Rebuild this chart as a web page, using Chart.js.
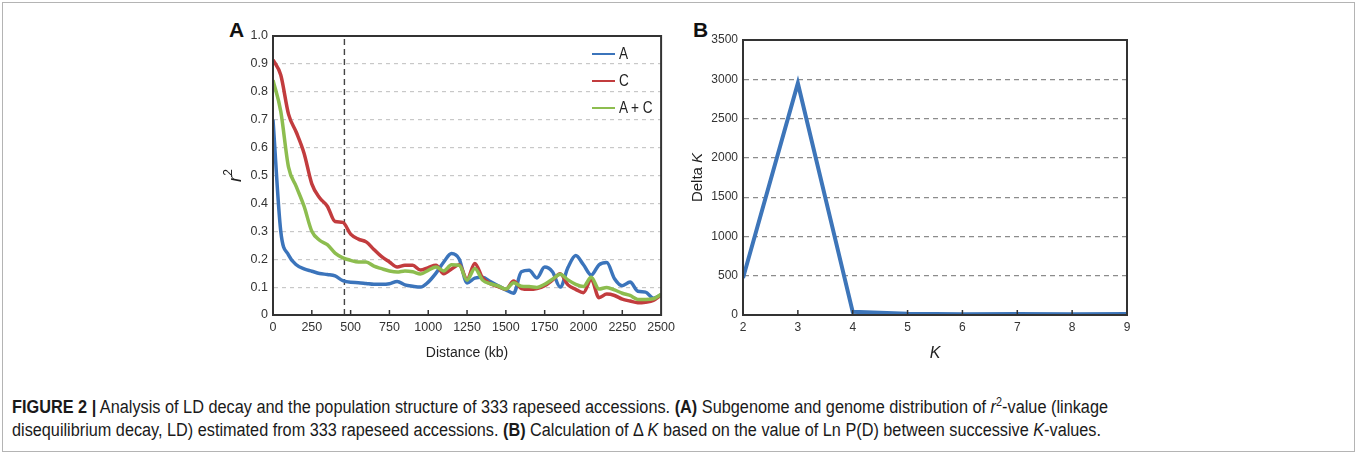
<!DOCTYPE html>
<html>
<head>
<meta charset="utf-8">
<script src="https://cdn.jsdelivr.net/npm/chart.js@4/dist/chart.umd.min.js"></script>
<style>
  body { margin: 0; background: #fff; width: 1359px; height: 455px; position: relative; overflow: hidden; font-family: "Liberation Sans", Arial, sans-serif; color: #222; }
  .frame { position: absolute; left: 2px; top: 2px; width: 1351px; height: 448px; border: 1px solid #b4b4b4; }
  .wrap { position: absolute; top: 0; }
  .panel { position: absolute; font-weight: bold; font-size: 21px; color: #111; }
  .legend { position: absolute; left: 592px; top: 40px; font-family: "Liberation Sans Narrow", "Liberation Sans", sans-serif; font-size: 16px; color: #222; }
  .legend div { height: 27px; display: flex; align-items: center; }
  .legend span.sw { display: inline-block; width: 23px; height: 2px; margin-right: 4px; }
  .legend span.tx { display: inline-block; transform: scaleX(0.85); transform-origin: 0 50%; }
  .caption { position: absolute; left: 12px; white-space: nowrap; font-family: "Liberation Sans Narrow", "Liberation Sans", sans-serif; font-size: 18px; color: #1a1a1a; transform-origin: 0 50%; }
  .caption sup { font-size: 12px; }
</style>
</head>
<body>
<div class="frame"></div>
<div class="panel" style="left:229px;top:18px;">A</div>
<div class="panel" style="left:693px;top:18px;">B</div>
<div class="wrap" style="left:200px;"><canvas id="ldChart" width="480" height="370"></canvas></div>
<div class="wrap" style="left:680px;"><canvas id="deltaChart" width="470" height="370"></canvas></div>
<div class="legend" id="ldLegend"></div>
<div class="caption" id="cap1" style="top:395px;"><b>FIGURE 2 |</b> Analysis of LD decay and the population structure of 333 rapeseed accessions. <b>(A)</b> Subgenome and genome distribution of <i>r</i><sup>2</sup>-value (linkage</div>
<div class="caption" id="cap2" style="top:420px;">disequilibrium decay, LD) estimated from 333 rapeseed accessions. <b>(B)</b> Calculation of Δ <i>K</i> based on the value of Ln P(D) between successive <i>K</i>-values.</div>
<script>
// panel A: LD decay, r^2 against distance (kb)
const distanceKb = [0, 50, 100, 150, 200, 250, 300, 350, 400, 450, 500, 550, 600, 650, 700, 750, 800, 850, 900, 950,
  1000, 1050, 1100, 1150, 1200, 1250, 1300, 1350, 1400, 1450, 1500, 1550, 1600, 1650, 1700, 1750, 1800, 1850, 1900, 1950,
  2000, 2050, 2100, 2150, 2200, 2250, 2300, 2350, 2400, 2450, 2500];

const r2A = [0.70, 0.30, 0.215, 0.18, 0.165, 0.157, 0.149, 0.145, 0.140, 0.123, 0.117, 0.116, 0.113, 0.110, 0.110, 0.112, 0.120, 0.108, 0.103, 0.100,
  0.118, 0.150, 0.190, 0.220, 0.200, 0.115, 0.132, 0.135, 0.120, 0.105, 0.090, 0.078, 0.155, 0.160, 0.133, 0.172, 0.155, 0.100, 0.170, 0.213,
  0.180, 0.143, 0.180, 0.188, 0.130, 0.105, 0.118, 0.085, 0.082, 0.060, 0.072];

const r2C = [0.915, 0.86, 0.72, 0.655, 0.58, 0.47, 0.42, 0.39, 0.335, 0.332, 0.29, 0.272, 0.262, 0.235, 0.209, 0.19, 0.172, 0.178, 0.178, 0.161,
  0.170, 0.178, 0.148, 0.165, 0.180, 0.128, 0.185, 0.133, 0.112, 0.102, 0.092, 0.122, 0.095, 0.092, 0.095, 0.105, 0.125, 0.148, 0.108, 0.092,
  0.080, 0.128, 0.062, 0.075, 0.070, 0.057, 0.050, 0.044, 0.046, 0.052, 0.072];

const r2AC = [0.842, 0.73, 0.53, 0.46, 0.39, 0.30, 0.268, 0.252, 0.222, 0.205, 0.196, 0.190, 0.190, 0.175, 0.166, 0.158, 0.154, 0.158, 0.155, 0.147,
  0.160, 0.172, 0.158, 0.180, 0.178, 0.125, 0.167, 0.125, 0.112, 0.104, 0.093, 0.116, 0.103, 0.102, 0.099, 0.110, 0.128, 0.146, 0.126, 0.110,
  0.102, 0.135, 0.093, 0.099, 0.090, 0.078, 0.070, 0.056, 0.056, 0.058, 0.074];

const seriesNames = ["A", "C", "A + C"];
const seriesColors = ["#3b74bb", "#c23c3e", "#8dbd4f"];
const ldCutoffKb = 460;

// panel B: delta K by K
const kValues = [2, 3, 4, 5, 6, 7, 8, 9];
const deltaK = [470, 2950, 40, 15, 10, 12, 8, 14];

const AXIS_FONT = "Liberation Sans";

function toPoints(xs, ys) {
  return xs.map((x, i) => ({ x: x, y: ys[i] }));
}

// frame round the plot area and small inward ticks on the x axis
const frameTicks = {
  id: "frameTicks",
  afterDraw(chart) {
    const { ctx, chartArea } = chart;
    const xs = chart.scales.x;
    ctx.save();
    ctx.strokeStyle = "#333";
    ctx.lineWidth = 1.5;
    xs.ticks.forEach((t) => {
      const px = xs.getPixelForValue(t.value);
      if (px <= chartArea.left + 1 || px >= chartArea.right - 1) return;
      ctx.beginPath();
      ctx.moveTo(px, chartArea.bottom);
      ctx.lineTo(px, chartArea.bottom - 5);
      ctx.stroke();
    });
    ctx.lineWidth = 2;
    ctx.strokeRect(chartArea.left, chartArea.top, chartArea.width, chartArea.height);
    ctx.restore();
  },
};

// rotated y title made of parts with their own fonts
const richYTitle = {
  id: "richYTitle",
  afterDraw(chart, args, opts) {
    if (!opts.parts) return;
    const { ctx, chartArea } = chart;
    ctx.save();
    ctx.translate(opts.x, (chartArea.top + chartArea.bottom) / 2);
    ctx.rotate(-Math.PI / 2);
    let total = 0;
    opts.parts.forEach((p) => {
      ctx.font = p.font;
      p.w = ctx.measureText(p.text).width;
      total += p.w;
    });
    let x = -total / 2;
    ctx.textBaseline = "middle";
    ctx.fillStyle = "#222";
    opts.parts.forEach((p) => {
      ctx.font = p.font;
      ctx.fillText(p.text, x, p.dy || 0);
      x += p.w;
    });
    ctx.restore();
  },
};

function hideEdges(lo, hi, color) {
  return (c) => (c.tick && (c.tick.value === lo || c.tick.value === hi) ? "rgba(0,0,0,0)" : color);
}

const ldDatasets = [r2A, r2C, r2AC].map((values, i) => ({
  label: seriesNames[i],
  data: toPoints(distanceKb, values),
  borderColor: seriesColors[i],
  borderWidth: 3.5,
  pointRadius: 0,
  cubicInterpolationMode: "monotone",
  fill: false,
  order: 3 - i,
}));

ldDatasets.push({
  label: "cutoff",
  data: [{ x: ldCutoffKb, y: 0 }, { x: ldCutoffKb, y: 1 }],
  borderColor: "#444",
  borderWidth: 1.4,
  borderDash: [6, 4],
  pointRadius: 0,
  order: 10,
});

new Chart(document.getElementById("ldChart").getContext("2d"), {
  type: "line",
  data: { datasets: ldDatasets },
  options: {
    responsive: false,
    animation: false,
    layout: { padding: { left: 0, right: 15, top: 36, bottom: 0 } },
    plugins: {
      legend: { display: false },
      tooltip: { enabled: false },
      richYTitle: {
        x: 36,
        parts: [
          { text: "r", font: `italic 19px "${AXIS_FONT}"` },
          { text: "2", font: `12px "${AXIS_FONT}"`, dy: -7 },
        ],
      },
    },
    scales: {
      x: {
        type: "linear",
        min: 0,
        max: 2500,
        afterFit: (s) => { s.height = 55; },
        ticks: { stepSize: 250, padding: 5, color: "#333", font: { family: AXIS_FONT, size: 12.5 },
          callback: (v) => String(v) },
        grid: { display: false, drawTicks: false },
        border: { display: true, color: "#333", width: 2 },
        title: { display: true, text: "Distance (kb)", color: "#222", font: { family: AXIS_FONT, size: 14 }, padding: { top: 0, bottom: 8 } },
      },
      y: {
        min: 0,
        max: 1,
        afterFit: (s) => { s.width = 73; },
        ticks: { stepSize: 0.1, padding: 5, color: "#333", font: { family: AXIS_FONT, size: 12.5 },
          callback: (v) => (v === 0 ? "0" : v.toFixed(1)) },
        grid: { drawTicks: false, color: hideEdges(0, 1, "#c8c8c8"), lineWidth: 1.2 },
        border: { display: true, color: "#333", width: 2, dash: [4, 4] },
      },
    },
  },
  plugins: [frameTicks, richYTitle],
});

new Chart(document.getElementById("deltaChart").getContext("2d"), {
  type: "line",
  data: {
    datasets: [{
      label: "Delta K",
      data: toPoints(kValues, deltaK),
      borderColor: "#3d75b9",
      borderWidth: 4,
      pointRadius: 0,
      tension: 0,
    }],
  },
  options: {
    responsive: false,
    animation: false,
    layout: { padding: { left: 0, right: 23, top: 40, bottom: 0 } },
    plugins: {
      legend: { display: false },
      tooltip: { enabled: false },
      richYTitle: {
        x: 18,
        parts: [
          { text: "Delta ", font: `15px "${AXIS_FONT}"` },
          { text: "K", font: `italic 15px "${AXIS_FONT}"` },
        ],
      },
    },
    scales: {
      x: {
        type: "linear",
        min: 2,
        max: 9,
        afterFit: (s) => { s.height = 55; },
        ticks: { stepSize: 1, padding: 5, color: "#333", font: { family: AXIS_FONT, size: 12 },
          callback: (v) => String(v) },
        grid: { display: false, drawTicks: false },
        border: { display: true, color: "#333", width: 2 },
        title: { display: true, text: "K", color: "#222", font: { family: AXIS_FONT, size: 16, style: "italic" }, padding: { top: 0, bottom: 7 } },
      },
      y: {
        min: 0,
        max: 3500,
        afterFit: (s) => { s.width = 63; },
        ticks: { stepSize: 500, padding: 5, color: "#333", font: { family: AXIS_FONT, size: 12 },
          callback: (v) => String(v) },
        grid: { drawTicks: false, color: hideEdges(0, 3500, "#8c8c8c"), lineWidth: 1.2 },
        border: { display: true, color: "#333", width: 2, dash: [5, 4] },
      },
    },
  },
  plugins: [frameTicks, richYTitle],
});

// html legend for panel A
const legendBox = document.getElementById("ldLegend");
seriesNames.forEach((name, i) => {
  const row = document.createElement("div");
  row.innerHTML = `<span class="sw" style="background:${seriesColors[i]}"></span><span class="tx">${name}</span>`;
  legendBox.appendChild(row);
});

// stretch the caption lines to the widths they have in the figure
[["cap1", 1096], ["cap2", 1089]].forEach(([id, target]) => {
  const el = document.getElementById(id);
  const w = el.getBoundingClientRect().width;
  el.style.transform = `scaleX(${target / w})`;
});
</script>
</body>
</html>
